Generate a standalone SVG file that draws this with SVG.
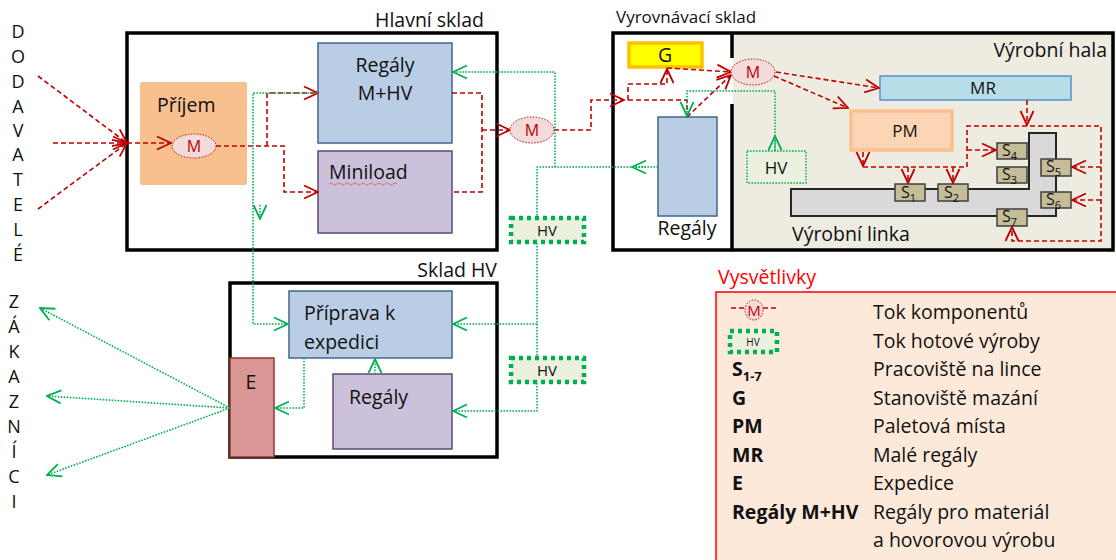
<svg xmlns="http://www.w3.org/2000/svg" width="1116" height="560" viewBox="0 0 1116 560">
<style>
text{font-family:"Open Sans","Liberation Sans",sans-serif;fill:#111;}
.t19{font-size:19.5px;}
.t17{font-size:17px;}
.side{font-size:18px;text-anchor:middle;}
.wall{fill:none;stroke:#000;stroke-width:3.5;}
.red{fill:none;stroke:#c00000;stroke-width:1.6;stroke-dasharray:5 3;}
.grn{fill:none;stroke:#00b050;stroke-width:1.6;stroke-dasharray:1.6 1.4;}
.ra{marker-end:url(#ar);}
.ga{marker-end:url(#ag);}
.mel{fill:#f2dcdb;stroke:#c00000;stroke-width:1;stroke-dasharray:1.5 1.5;}
.mtx{font-size:16px;fill:#c00000;text-anchor:middle;}
.blue{fill:#b9cde5;stroke:#41668f;stroke-width:1.5;}
.violet{fill:#ccc1da;stroke:#5f497a;stroke-width:1.5;}
.st{fill:#c4bd97;stroke:#3f3f3f;stroke-width:1.5;}
.stx{font-size:16px;}
.sub{font-size:11px;}
.hvb{fill:#ebf1de;stroke:#00b050;stroke-width:4.5;stroke-dasharray:4 4;}
.lg{font-size:19.5px;}
.lb{font-size:19.5px;font-weight:bold;}
</style>
<defs>
<marker id="ar" viewBox="0 0 16 16" refX="15" refY="8" markerWidth="16" markerHeight="16" markerUnits="userSpaceOnUse" orient="auto"><path d="M1,1.5 L15,8 L1,14.5" fill="none" stroke="#c00000" stroke-width="1.8"/></marker>
<marker id="ag" viewBox="0 0 16 16" refX="15" refY="8" markerWidth="16" markerHeight="16" markerUnits="userSpaceOnUse" orient="auto"><path d="M1,1.5 L15,8 L1,14.5" fill="none" stroke="#00b050" stroke-width="1.8"/></marker>
</defs>
<rect width="1116" height="560" fill="#fff"/>

<!-- side labels -->
<g id="dodavatele">
<text class="side" x="18" y="38">D</text><text class="side" x="18" y="63">O</text><text class="side" x="18" y="88">D</text><text class="side" x="18" y="113">A</text><text class="side" x="18" y="137">V</text><text class="side" x="18" y="161">A</text><text class="side" x="18" y="186">T</text><text class="side" x="18" y="211">E</text><text class="side" x="18" y="236">L</text><text class="side" x="18" y="261">É</text>
</g>
<g id="zakaznici">
<text class="side" x="14" y="308">Z</text><text class="side" x="14" y="333">Á</text><text class="side" x="14" y="358">K</text><text class="side" x="14" y="383">A</text><text class="side" x="14" y="408">Z</text><text class="side" x="14" y="433">N</text><text class="side" x="14" y="458">Í</text><text class="side" x="14" y="483">C</text><text class="side" x="14" y="508">I</text>
</g>

<!-- Hlavní sklad -->
<g id="hlavni-sklad">
<rect class="wall" x="127" y="33" width="370" height="217" fill="#fff"/>
<text class="t19" x="375" y="27">Hlavní sklad</text>
</g>
<g id="prijem">
<rect x="140" y="82" width="107" height="103" rx="2" fill="#f9c08f"/>
<text class="t19" x="157" y="112">Příjem</text>
</g>
<g id="regaly-mhv">
<rect class="blue" x="318" y="43" width="134" height="100"/>
<text class="t19" x="385" y="72" text-anchor="middle">Regály</text>
<text class="t19" x="385" y="100" text-anchor="middle">M+HV</text>
</g>
<g id="miniload">
<rect class="violet" x="318" y="151" width="134" height="82"/>
<text class="t19" x="329" y="179">Miniload</text>
<path d="M329,184 q2,-2 4,0 t4,0 t4,0 t4,0 t4,0 t4,0 t4,0 t4,0 t4,0 t4,0 t4,0 t4,0 t4,0 t4,0 t4,0 t4,0 t4,0" fill="none" stroke="#e06060" stroke-width="0.8"/>
</g>

<!-- Sklad HV -->
<g id="sklad-hv">
<rect class="wall" x="230" y="283" width="267" height="174" fill="#fff"/>
<text class="t19" x="497" y="277" text-anchor="end">Sklad HV</text>
</g>
<g id="priprava">
<rect class="blue" x="289" y="291" width="163" height="67"/>
<text class="t19" x="304" y="320">Příprava k</text>
<text class="t19" x="304" y="349">expedici</text>
</g>
<g id="regaly-hv">
<rect class="violet" x="333" y="374" width="119" height="75"/>
<text class="t19" x="349" y="404">Regály</text>
</g>
<g id="expedice">
<rect x="230" y="358" width="44" height="99" fill="#d99694" stroke="#953735" stroke-width="1.5"/>
<text class="t19" x="251" y="389" text-anchor="middle">E</text>
</g>

<!-- Vyrovnávací sklad + Výrobní hala -->
<g id="vyrobni-hala">
<rect x="733" y="33" width="380" height="217" fill="#eeece1"/>
<text class="t19" x="1107" y="57" text-anchor="end">Výrobní hala</text>
</g>
<g id="vyrovnavaci-sklad">
<rect x="613" y="33" width="120" height="217" fill="#fff"/>
<rect class="wall" x="613" y="33" width="500" height="217"/>
<path class="wall" d="M732,33 V58 M732,104 V250"/>
<text class="t17" x="616" y="23">Vyrovnávací sklad</text>
</g>
<g id="g-mazani">
<rect x="629" y="43" width="73" height="24" fill="#ffff00" stroke="#ffc000" stroke-width="3.5"/>
<text class="t19" x="665" y="62" text-anchor="middle">G</text>
</g>
<g id="regaly-vyr">
<rect class="blue" x="658" y="117" width="59" height="99"/>
<text class="t19" x="687" y="235" text-anchor="middle">Regály</text>
</g>
<g id="mr">
<rect x="880" y="76" width="191" height="24" fill="#b7dee8" stroke="#5b8fc9" stroke-width="1.5"/>
<text class="t17" x="983" y="94" text-anchor="middle">MR</text>
</g>
<g id="pm">
<rect x="851" y="111" width="101" height="39" fill="#fcd5b5" stroke="#fac090" stroke-width="3.5"/>
<text class="t17" x="905" y="137" text-anchor="middle">PM</text>
</g>
<g id="hv-hala">
<rect x="747" y="151" width="59" height="32" fill="#ebf1de" stroke="#00b050" stroke-width="1.5" stroke-dasharray="1.6 1.4"/>
<text class="t17" x="776" y="174" text-anchor="middle">HV</text>
</g>
<g id="vyrobni-linka">
<path d="M791,189 H1029 V133 H1056 V216 H791 Z" fill="#d9d9d9" stroke="#262626" stroke-width="2"/>
<text class="t19" x="792" y="241">Výrobní linka</text>
</g>
<g id="s1"><rect class="st" x="895" y="184" width="30" height="17"/><text class="stx" x="901" y="198">S<tspan class="sub" dy="4">1</tspan></text></g>
<g id="s2"><rect class="st" x="938" y="184" width="30" height="17"/><text class="stx" x="944" y="198">S<tspan class="sub" dy="4">2</tspan></text></g>
<g id="s4"><rect class="st" x="997" y="143" width="30" height="16"/><text class="stx" x="1002" y="156">S<tspan class="sub" dy="4">4</tspan></text></g>
<g id="s3"><rect class="st" x="997" y="167" width="30" height="16"/><text class="stx" x="1002" y="180">S<tspan class="sub" dy="4">3</tspan></text></g>
<g id="s5"><rect class="st" x="1041" y="159" width="30" height="17"/><text class="stx" x="1046" y="172">S<tspan class="sub" dy="4">5</tspan></text></g>
<g id="s6"><rect class="st" x="1041" y="192" width="30" height="16"/><text class="stx" x="1046" y="205">S<tspan class="sub" dy="4">6</tspan></text></g>
<g id="s7"><rect class="st" x="997" y="209" width="30" height="17"/><text class="stx" x="1002" y="222">S<tspan class="sub" dy="4">7</tspan></text></g>

<!-- HV flow boxes -->
<g id="hv1"><rect class="hvb" x="511" y="218" width="73" height="24"/><text x="547" y="236" font-size="15" text-anchor="middle">HV</text></g>
<g id="hv2"><rect class="hvb" x="511" y="358" width="73" height="24"/><text x="547" y="376" font-size="15" text-anchor="middle">HV</text></g>

<!-- connectors -->
<g id="connectors">
<path class="red ra" d="M38,76 L127,143"/>
<path class="red ra" d="M53,143 L127,143"/>
<path class="red ra" d="M38,209 L127,143"/>
<path class="red ra" d="M127,143 L171,143"/>
<path class="red ra" d="M216,146 L284,146 L284,192 L318,192"/>
<path class="red ra" d="M267,146 L267,93 L318,93"/>
<path class="red" d="M452,93 L482,93 L482,192 L452,192"/>
<path class="red ra" d="M482,130 L510,130"/>
<path class="red ra" d="M554,130 L591,130 L591,100 L624,100"/>
<path class="red ra" d="M628,100 L628,84 L667,84 L667,69"/>
<path class="red" d="M628,100 L687,100 L687,117"/>
<path class="red ra" d="M687,117 L731,75"/>
<path class="red ra" d="M667,68 L731,72"/>
<path class="red ra" d="M776,72 L879,88"/>
<path class="red ra" d="M774,76 L848,108"/>
<path class="red ra" d="M1027,100 L1027,125"/>
<path class="red ra" d="M863,152 L863,166"/>
<path class="red ra" d="M863,167 L967,167 L967,126 L1101,126 L1101,241 L1012,241 L1012,227"/>
<path class="red ra" d="M967,150 L996,150"/>
<path class="red ra" d="M908,167 L908,183"/>
<path class="red ra" d="M953,167 L953,183"/>
<path class="red ra" d="M1101,167 L1072,167"/>
<path class="red ra" d="M1101,200 L1072,200"/>

<path class="grn ga" d="M318,93 L253,93 L253,324 L288,324"/>
<path class="grn ga" d="M260,205 L260,219"/>
<path class="grn" d="M658,167 L537,167 L537,217"/>
<path class="grn ga" d="M646,167 L632,167"/>
<path class="grn ga" d="M555,167 L555,72 L453,72"/>
<path class="grn ga" d="M537,243 L537,324 L453,324"/>
<path class="grn" d="M537,324 L537,357"/>
<path class="grn ga" d="M537,383 L537,411 L453,411"/>
<path class="grn ga" d="M775,151 L775,91 L687,91 L687,116"/>
<path class="grn ga" d="M775,150 L775,136"/>
<path class="grn ga" d="M375,374 L375,359"/>
<path class="grn ga" d="M304,358 L304,408 L275,408"/>
<path class="grn ga" d="M230,408 L40,308"/>
<path class="grn ga" d="M230,408 L47,396"/>
<path class="grn ga" d="M230,408 L47,475"/>
</g>

<!-- M nodes -->
<g id="m1"><ellipse class="mel" cx="194" cy="146" rx="22" ry="12"/><text class="mtx" x="194" y="152">M</text></g>
<g id="m2"><ellipse class="mel" cx="532" cy="130" rx="22" ry="13"/><text class="mtx" x="532" y="136">M</text></g>
<g id="m3"><ellipse class="mel" cx="753" cy="72" rx="22" ry="13"/><text class="mtx" x="753" y="78">M</text></g>

<!-- legend -->
<g id="legend">
<text x="718" y="284" font-size="19.5" style="fill:#ff0000">Vysvětlivky</text>
<rect x="716" y="292" width="420" height="300" fill="#fde9d9" stroke="#ff0000" stroke-width="1.5"/>
<path class="red" d="M731,308 H745 M763,308 H777" stroke-dasharray="4 3"/>
<ellipse class="mel" cx="754" cy="310" rx="9" ry="10"/>
<text x="754" y="316" font-size="15" text-anchor="middle" style="fill:#c00000">M</text>
<rect class="hvb" x="730" y="331" width="47" height="21" stroke-width="3.5" stroke-dasharray="3.5 3"/>
<text x="753" y="346" font-size="10" text-anchor="middle">HV</text>
<text class="lb" x="732" y="376">S<tspan font-size="13" dy="5">1-7</tspan></text>
<text class="lb" x="732" y="405">G</text>
<text class="lb" x="732" y="433">PM</text>
<text class="lb" x="732" y="462">MR</text>
<text class="lb" x="732" y="490">E</text>
<text class="lb" x="732" y="519">Regály M+HV</text>
<text class="lg" x="873" y="319">Tok komponentů</text>
<text class="lg" x="873" y="348">Tok hotové výroby</text>
<text class="lg" x="873" y="376">Pracoviště na lince</text>
<text class="lg" x="873" y="405">Stanoviště mazání</text>
<text class="lg" x="873" y="433">Paletová místa</text>
<text class="lg" x="873" y="462">Malé regály</text>
<text class="lg" x="873" y="490">Expedice</text>
<text class="lg" x="873" y="519">Regály pro materiál</text>
<text class="lg" x="873" y="547">a hovorovou výrobu</text>
</g>
</svg>
